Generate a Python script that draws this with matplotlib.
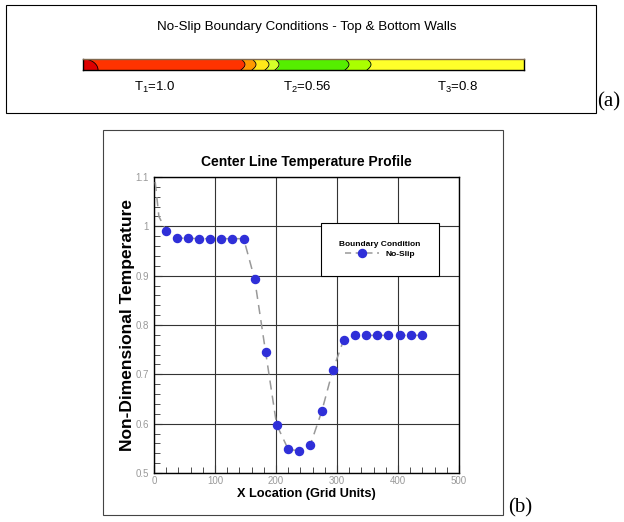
import numpy as np
import matplotlib
matplotlib.use("Agg")
import matplotlib.pyplot as plt
from matplotlib.patches import Rectangle
from matplotlib.lines import Line2D
from matplotlib.ticker import MultipleLocator, FormatStrFormatter

plt.rcParams['font.family'] = ['Liberation Sans', 'DejaVu Sans']
plt.rcParams['mathtext.default'] = 'regular'

# --- datos (a): franjas de color a lo largo del canal (unidades de malla) ---
bordes = [0, 158, 169, 182, 192, 262, 284, 441]
colores = ['#ff3300', '#ff9900', '#ffe81a', '#d4ff2a', '#55ee00', '#aaff00', '#ffff2a']
etiquetas_T = ['T$_1$=1.0', 'T$_2$=0.56', 'T$_3$=0.8']
pos_etiquetas = [72, 224, 375]

# --- datos (b): perfil de temperatura en la linea central ---
x_grid = [20, 38, 55, 73, 92, 110, 128, 147, 165, 183, 201, 220,
          238, 256, 275, 293, 311, 329, 348, 366, 384, 403, 421, 439]
temp = [0.991, 0.976, 0.976, 0.975, 0.975, 0.975, 0.975, 0.975, 0.893, 0.745,
        0.598, 0.548, 0.545, 0.556, 0.625, 0.708, 0.770, 0.779, 0.779, 0.779,
        0.779, 0.779, 0.779, 0.779]
# tramo inicial de la curva (sin marcador) junto a la pared
x_ini = [2, 8]
temp_ini = [1.09, 1.02]

W, H = 624, 522
fig = plt.figure(figsize=(W / 100, H / 100), dpi=100)


def fx(px):
    return px / W


def fy(py):
    return 1 - py / H


# marco (a)
fig.add_artist(Rectangle((fx(6), fy(113)), fx(590), 108 / H, transform=fig.transFigure,
                         fill=False, edgecolor='black', lw=0.8))
fig.text(fx(307), fy(27), 'No-Slip Boundary Conditions - Top & Bottom Walls',
         ha='center', va='center', fontsize=9.6)
fig.text(fx(597), fy(102), '(a)', ha='left', va='center', fontsize=15,
         family='Liberation Serif')

ax_bar = fig.add_axes([fx(83), fy(70), fx(441), 11 / H])
yy = np.linspace(0, 1, 60)
for i, c in enumerate(colores):
    izq = bordes[i] + (4 * np.sin(np.pi * yy) if i > 0 else 0 * yy)
    der = bordes[i + 1] + (4 * np.sin(np.pi * yy) if i + 1 < len(bordes) - 1 else 0 * yy)
    ax_bar.fill_betweenx(yy, izq, der, color=c, lw=0)
    if i > 0:
        ax_bar.plot(izq, yy, color='black', lw=0.6)
# esquina roja oscura
esq = 15 * np.sqrt(1 - yy ** 2)
ax_bar.fill_betweenx(yy, 0, esq, color='#dd0000', lw=0)
ax_bar.plot(esq, yy, color='black', lw=0.6)
ax_bar.set_xlim(0, 441)
ax_bar.set_ylim(0, 1)
ax_bar.set_xticks([])
ax_bar.set_yticks([])
for s in ax_bar.spines.values():
    s.set_color('black')
    s.set_linewidth(1)
ax_bar.spines['top'].set_color('#806a50')

for lab, p in zip(etiquetas_T, pos_etiquetas):
    ax_bar.text(p, -1.6, lab, ha='center', va='center', fontsize=9.5)

# marco (b)
fig.add_artist(Rectangle((fx(103), fy(515)), fx(400), 385 / H, transform=fig.transFigure,
                         fill=False, edgecolor='#444444', lw=0.8))
fig.text(fx(508), fy(508), '(b)', ha='left', va='center', fontsize=15,
         family='Liberation Serif')

ax = fig.add_axes([fx(154), fy(473), fx(305), 296 / H])
ax.plot(x_ini + x_grid, temp_ini + temp, linestyle=(0, (6, 4)), color='#999999', lw=1.1,
        zorder=3)
ax.plot(x_grid, temp, 'o', color='#2f2fd8', markersize=5.8, zorder=4)

h = Line2D([], [], color='#999999', linestyle=(0, (4, 3)), lw=1.1, marker='o',
           markerfacecolor='#2f2fd8', markeredgecolor='#2f2fd8', markersize=5.8)
leg = ax.legend([h], ['No-Slip'], title='Boundary Condition', loc='upper left',
                bbox_to_anchor=(0.548, 0.845), fancybox=False, framealpha=1,
                edgecolor='black', prop={'size': 6, 'weight': 'bold'},
                title_fontproperties={'size': 6, 'weight': 'bold'},
                borderpad=2.2, handlelength=4, borderaxespad=0, labelspacing=0.2)
leg.get_frame().set_linewidth(0.8)
leg.set_zorder(5)

ax.set_xlim(0, 500)
ax.set_ylim(0.5, 1.1)
ax.xaxis.set_major_locator(MultipleLocator(100))
ax.xaxis.set_minor_locator(MultipleLocator(20))
ax.yaxis.set_major_locator(MultipleLocator(0.1))
ax.yaxis.set_minor_locator(MultipleLocator(0.02))
ax.yaxis.set_major_formatter(FormatStrFormatter('%g'))
ax.tick_params(which='both', direction='in', labelsize=7, labelcolor='#999999',
               color='#333333', top=False, right=False)
ax.tick_params(axis='x', pad=2)
ax.tick_params(which='major', length=6, width=0.8)
ax.tick_params(which='minor', length=4, width=0.6)
ax.grid(True, which='major', color='#333333', lw=0.8)
for s in ax.spines.values():
    s.set_linewidth(1)

ax.set_title('Center Line Temperature Profile', fontsize=10, fontweight='bold', pad=8)
ax.set_xlabel('X Location (Grid Units)', fontsize=9.2, fontweight='bold')
ax.set_ylabel('Non-Dimensional Temperature', fontsize=12.5, fontweight='bold')
ax.xaxis.set_label_coords(0.5, -0.052)
ax.yaxis.set_label_coords(-0.062, 0.5)

fig.savefig('out.png', dpi=100)
